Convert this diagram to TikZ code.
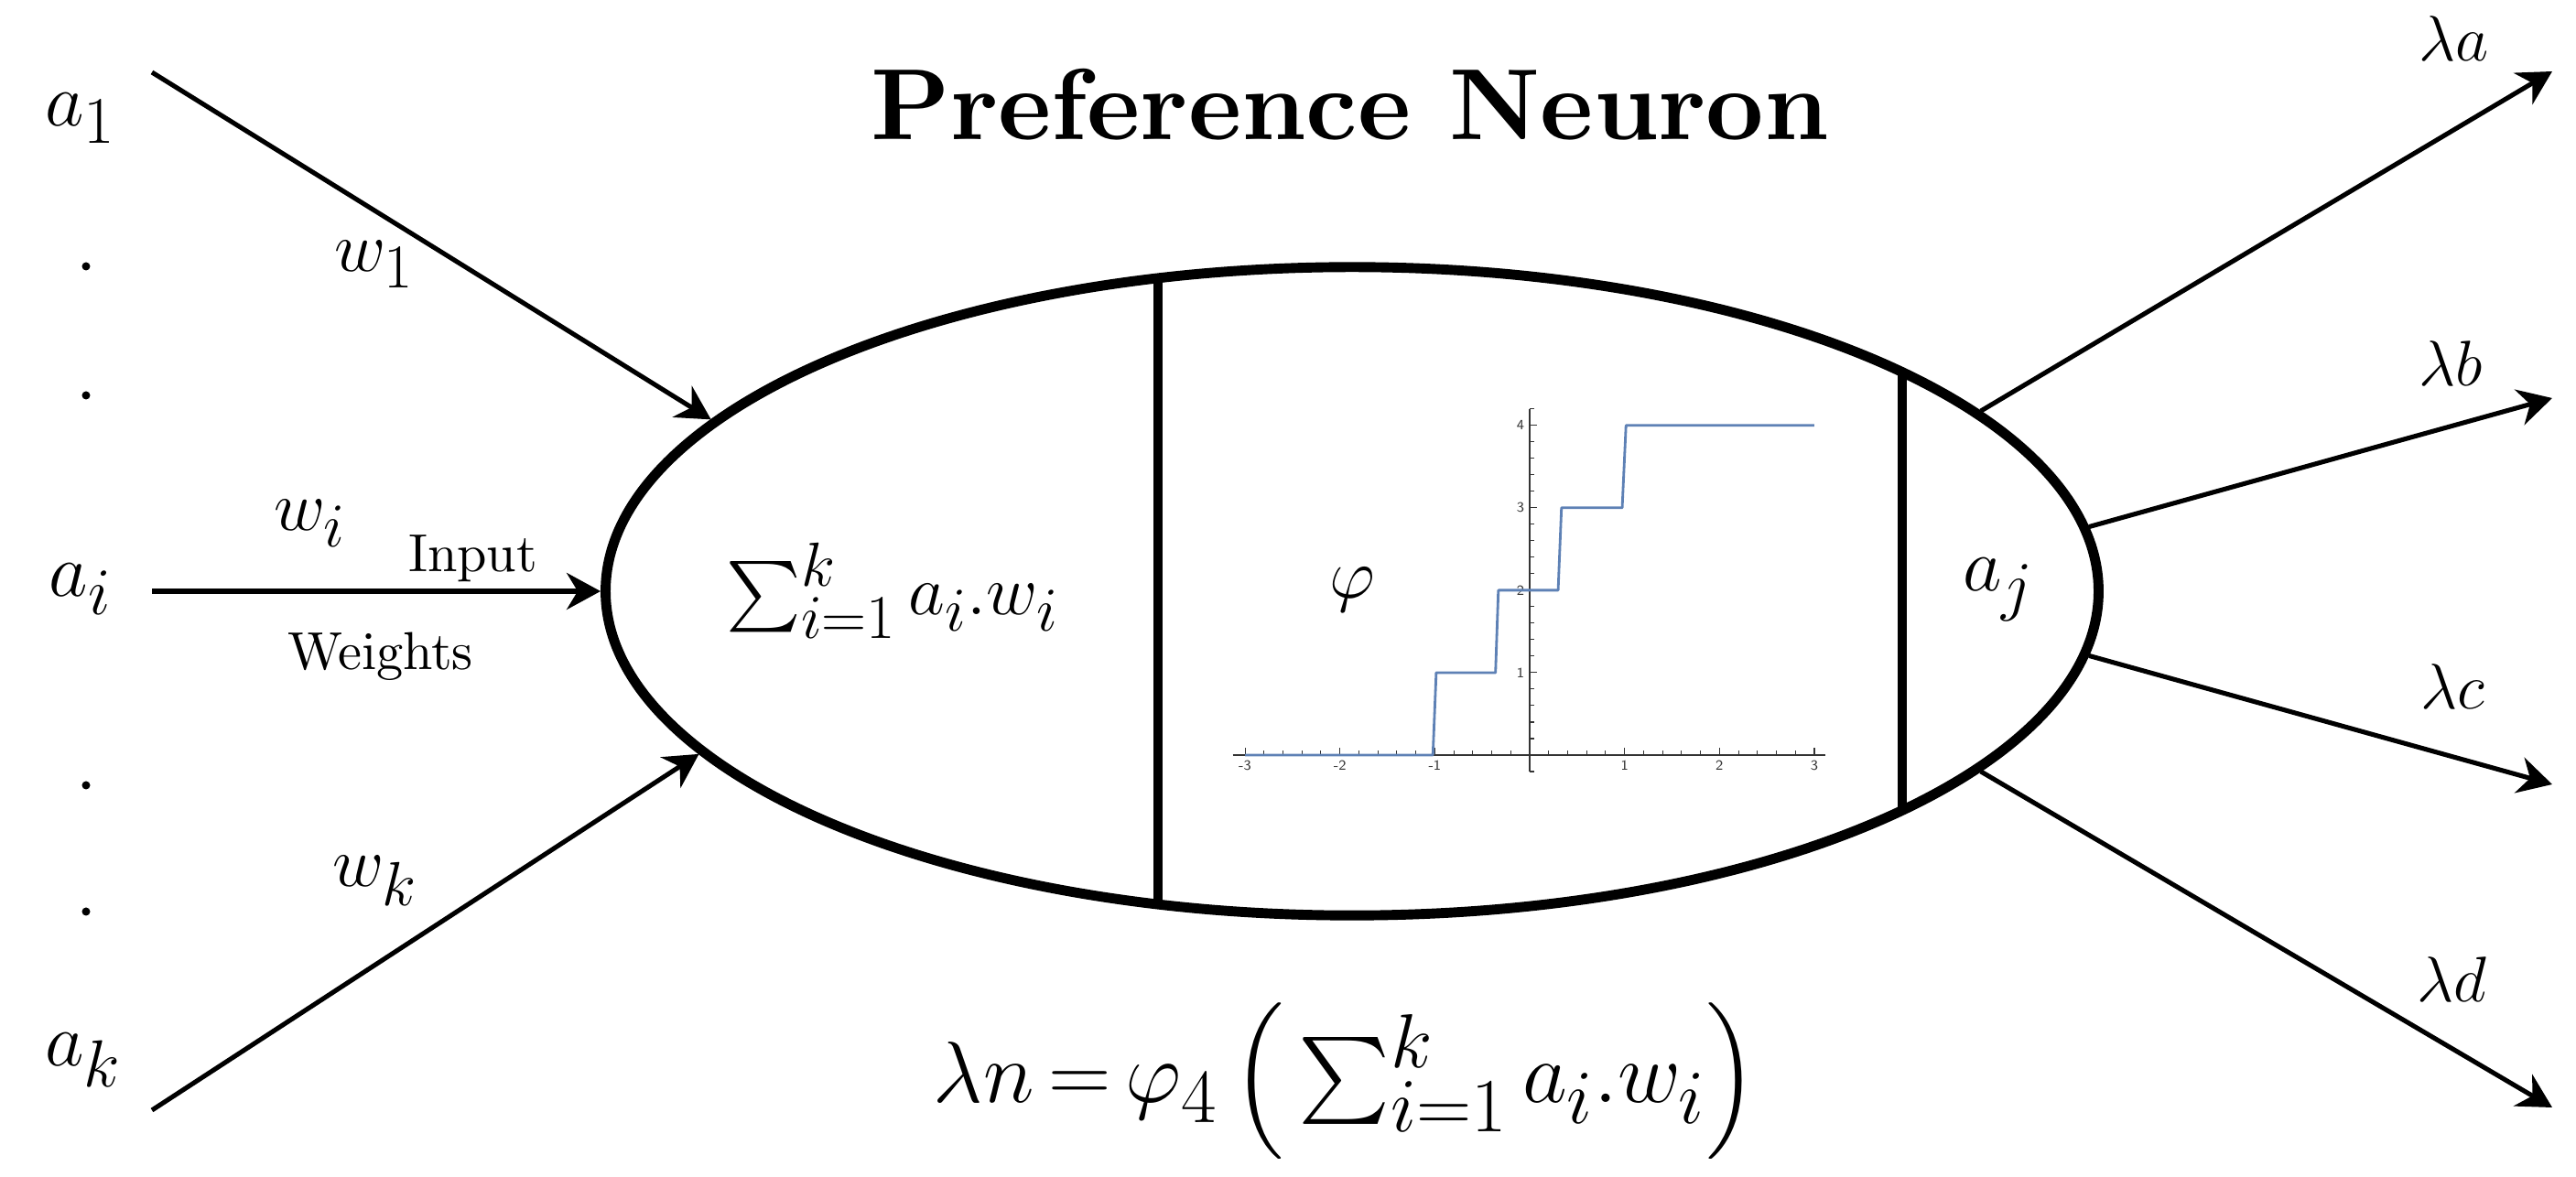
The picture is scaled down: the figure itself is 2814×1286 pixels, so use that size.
\documentclass[tikz,border=0pt]{standalone}
\DeclareFontShape{OT1}{cmr}{m}{n}{<-7>cmr5<7-10>cmr7<10-12>cmr10<12-17>cmr12<17->cmr17}{}
\DeclareFontShape{OML}{cmm}{m}{it}{<-7>cmmi5<7-10>cmmi7<10-12>cmmi10<12->cmmi12}{}
\DeclareFontShape{OMS}{cmsy}{m}{n}{<-7>cmsy5<7-10>cmsy7<10->cmsy10}{}
\DeclareFontShape{OMX}{cmex}{m}{n}{<->cmex10}{}
\DeclareFontFamily{OT1}{cmrten}{}
\DeclareFontShape{OT1}{cmrten}{m}{n}{<->cmr10}{}
\DeclareFontShape{OT1}{cmrten}{bx}{n}{<->cmbx10}{}
\newcommand{\tenrm}{\fontencoding{OT1}\fontfamily{cmrten}\selectfont}
\usetikzlibrary{arrows.meta,shapes.geometric}
\renewcommand\defaultscriptratio{.88}
\definecolor{mblue}{RGB}{94,129,181}
\tikzset{
  lab/.style={inner sep=0pt, outer sep=0pt},
  inlab/.style={lab, font=\fontsize{23.5}{28}\selectfont},
  wlab/.style={lab, font=\fontsize{22}{26}\selectfont},
  txt/.style={lab, font=\fontsize{16.6}{20}\tenrm},
  outlab/.style={lab, font=\fontsize{20}{24}\selectfont},
  conn/.style={line width=1.45pt, -{Stealth[length=0.37cm,width=0.40cm,inset=0.12cm]}},
  body/.style={draw, ellipse, line width=3.1pt, minimum width=16.3cm, minimum height=7.08cm, inner sep=0pt},
  divider/.style={line width=3pt},
  dotmark/.style={circle, fill, inner sep=0pt, minimum size=0.09cm},
  axisline/.style={line width=0.3pt, black!80},
  stepline/.style={line width=0.8pt, mblue, line join=round},
  ticklab/.style={inner sep=0pt, font=\sffamily\fontsize{4.4}{5}\selectfont, black!80}
}
\begin{document}
\begin{tikzpicture}[x=0.01cm,y=-0.01cm]
\useasboundingbox (0,0) rectangle (2814,1286);

% title
\node[lab, anchor=base, font=\fontsize{31.4}{36}\tenrm\bfseries] (title) at (1475,153) {Preference Neuron};

% neuron body
\node[body] (neuron) at (1477,646) {};
\coordinate (d1t) at (1265,304); \coordinate (d1b) at (1265,988);
\coordinate (d2t) at (2078,407); \coordinate (d2b) at (2078,885);
\draw[divider] (d1t) -- (d1b);
\draw[divider] (d2t) -- (d2b);

% inside labels
\node[lab, font=\fontsize{22}{26}\selectfont] (sum) at (975,645) {$\sum_{i=1}^{k} a_{i}.w_{i}$};
\node[lab, font=\fontsize{22}{26}\selectfont] (phi) at (1477,644) {$\varphi$};
\node[inlab] (aj) at (2183,644) {$a_{j}$};

% step function plot
\begin{scope}[shift={(1671,825)}, x=1.036cm, y=0.9cm]
  \draw[axisline] (-3.13,0) -- (3.12,0);
  \draw[axisline] (0,-0.2) -- (0,4.2);
  \foreach \i in {-15,...,15} \draw[axisline] (\i/5,0) -- (\i/5,0.055);
  \foreach \v in {-3,-2,-1,1,2,3} \draw[axisline] (\v,0) -- (\v,0.09);
  \foreach \i in {-1,...,21} \draw[axisline] (0,\i/5) -- (0.048,\i/5);
  \foreach \v in {1,2,3,4} \draw[axisline] (0,\v) -- (0.077,\v);
  \foreach \v in {-3,-2,-1,1,2,3} \node[ticklab] at (\v,-0.13) {\v};
  \foreach \v in {1,2,3,4} \node[ticklab, anchor=east] at (-0.05,\v) {\v};
  \draw[stepline] (-3,0) -- (-1.02,0) -- (-0.985,1) -- (-0.36,1) -- (-0.33,2)
    -- (0.30,2) -- (0.335,3) -- (0.975,3) -- (1.015,4) -- (3,4);
\end{scope}

% inputs
\node[inlab, anchor=base west] (a1) at (49,138) {$a_{1}$};
\node[inlab, anchor=base west] (ai) at (54,652) {$a_{i}$};
\node[inlab, anchor=base west] (ak) at (49,1165) {$a_{k}$};
\node[dotmark] (dot1) at (94,291) {};
\node[dotmark] (dot2) at (94,432) {};
\node[dotmark] (dot3) at (94,858) {};
\node[dotmark] (dot4) at (94,996) {};

\node[wlab, anchor=base west] (w1) at (365,297) {$w_{1}$};
\node[wlab, anchor=base west] (wi) at (299,580) {$w_{i}$};
\node[wlab, anchor=base west] (wk) at (363,969) {$w_{k}$};
\node[txt, anchor=base west] (inp) at (446,625) {Input};
\node[txt, anchor=base west] (wts) at (314,732) {Weights};

\coordinate (s1) at (166,79);
\coordinate (si) at (166,646);
\coordinate (sk) at (166,1213);
\draw[conn] (s1) -- (neuron.165.94);
\draw[conn] (si) -- (neuron.180);
\draw[conn] (sk) -- (neuron.194.06);

% outputs
\coordinate (ea) at (2788,78);
\coordinate (eb) at (2788,435);
\coordinate (ec) at (2788,857);
\coordinate (ed) at (2788,1210);
\draw[conn] (neuron.16.74) -- (ea);
\draw[conn] (neuron.5.11) -- (eb);
\draw[conn] (neuron.-5.11) -- (ec);
\draw[conn] (neuron.-16.74) -- (ed);
\node[outlab, anchor=base west] (la) at (2642,67) {$\lambda a$};
\node[outlab, anchor=base west] (lb) at (2642,422) {$\lambda b$};
\node[outlab, anchor=base west] (lc) at (2644,775) {$\lambda c$};
\node[outlab, anchor=base west] (ld) at (2640,1095) {$\lambda d$};

% formula
\node[lab, anchor=base, font=\fontsize{27}{32}\selectfont] (eq) at (1470,1205)
  {$\lambda n\,{=}\,\varphi_{4}\left(\rule[-0.55em]{0pt}{1.6em}\sum_{i=1}^{k} a_{i}.w_{i}\right)$};
\end{tikzpicture}
\end{document}
